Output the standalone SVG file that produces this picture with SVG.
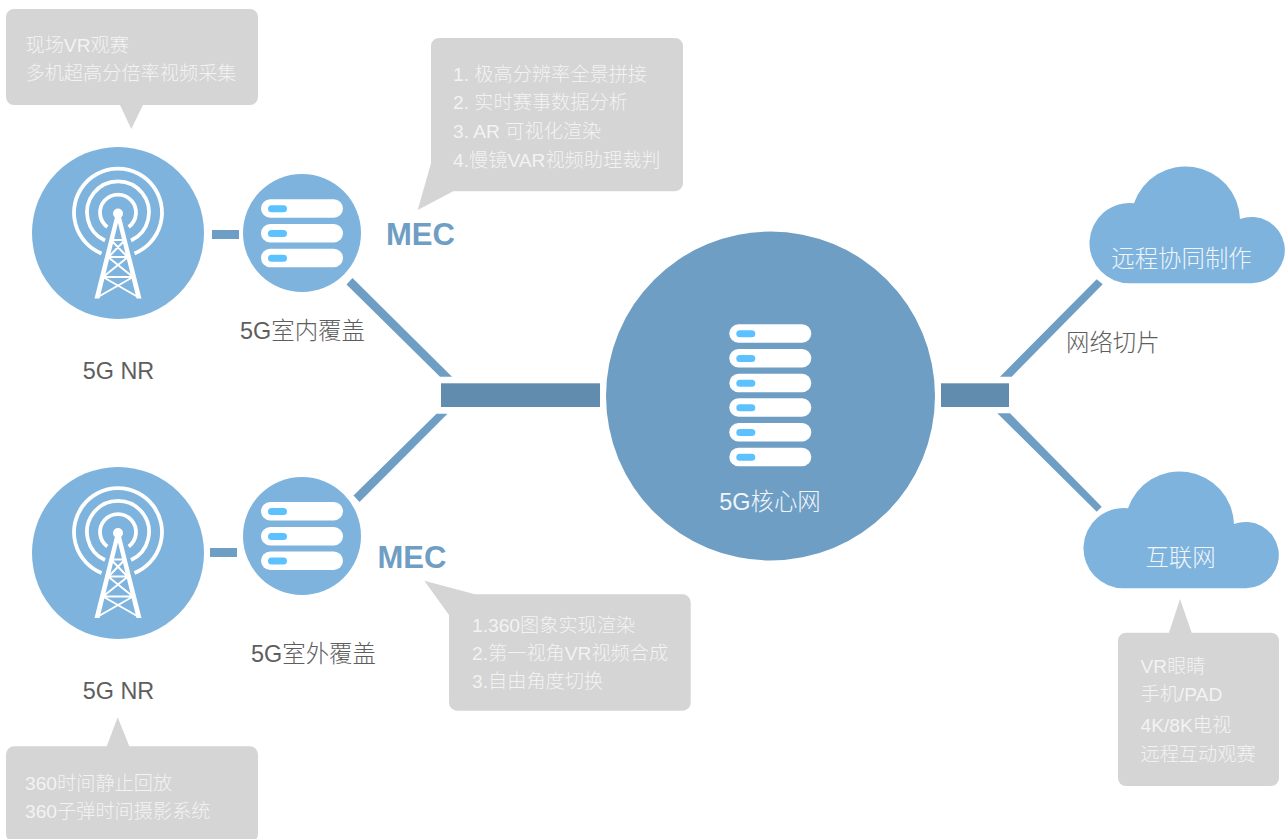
<svg xmlns="http://www.w3.org/2000/svg" xmlns:xlink="http://www.w3.org/1999/xlink" width="1288" height="839" viewBox="0 0 1288 839">
<style>
text{font-family:"Liberation Sans","Noto Sans CJK SC",sans-serif}
.light{fill:#7DB3DD}
.core{fill:#6F9EC4}
.bar{fill:#628CAD}
.link{fill:#6F9EC4}
.bubble{fill:#D5D5D5}
.bt{font-size:19.200px;fill:#F3F3F3;font-weight:300}
.lbl{font-size:23.400px;fill:#5E5E5E;font-weight:300}
.wt{font-size:23.400px;fill:#F0F5FA;font-weight:300}
.mec{font-size:31px;font-weight:bold;fill:#6F9EC4}
.row{fill:#fff}
.led{fill:#5BC2FF}
.arc{fill:none;stroke:#fff;stroke-width:3.800}
.mast{fill:none;stroke:#fff;stroke-width:2}
</style>
<defs>
<g id="tower">
<path class="arc" d="M101.500 253.500A44 44 0 1 1 134.500 253.500"/>
<path class="arc" d="M105 240.500A31 31 0 1 1 131 240.500"/>
<path class="arc" d="M107.300 227A18 18 0 1 1 128.700 227"/>
<circle cx="118" cy="213.500" r="5" fill="#fff"/>
<path fill="#fff" d="M115.500 215H120.500L141.500 298.500H136.500L118 223L99.500 298.500H94.500Z"/>
<path class="mast" d="M111 240H125M111 240L127.500 257M125 240L108.500 257M108 257H128M108 257L133 277M128 257L103 277M103 277H133M103 277L138 297M133 277L98 297"/>
</g>
<g id="row"><rect class="row" x="0" y="0" width="82" height="18.500" rx="9.200"/><rect class="led" x="7" y="6" width="19" height="7" rx="3.500"/></g>
<path id="cloud" d="M1130 283.300A40.170 40.170 0 1 1 1134 203.200A54.500 54.500 0 0 1 1240 219A33.200 33.200 0 1 1 1252 283.300Z"/>
</defs>
<g id="connectors">
<rect class="link" x="212" y="230" width="27" height="9"/>
<rect class="link" x="210" y="548" width="27" height="9"/>
<polygon class="link" points="352.500,278 452,376.700 440,376.700 346.500,284.500"/>
<polygon class="link" points="436.500,413.700 447.500,413.700 359.500,502 353.500,495.500"/>
<rect class="bar" x="441" y="383.300" width="159" height="23.700"/>
<rect class="bar" x="941" y="383.300" width="68" height="23.700"/>
<polygon class="link" points="1096.700,279.300 1102.700,284.300 1011.700,376.700 1000,376.700"/>
<polygon class="link" points="997.300,413.300 1010,413.300 1101.700,506.700 1096.700,511.700"/>
</g>
<g id="nr-top"><circle class="light" cx="118" cy="233" r="86"/><use xlink:href="#tower"/><text class="lbl" x="118.500" y="379" text-anchor="middle">5G NR</text></g>
<g id="nr-bottom"><circle class="light" cx="118" cy="553" r="86"/><use xlink:href="#tower" y="319.500"/><text class="lbl" x="118.500" y="699" text-anchor="middle">5G NR</text></g>
<g id="mec-top"><circle class="light" cx="302" cy="233" r="59"/><use xlink:href="#row" x="261" y="199.300"/><use xlink:href="#row" x="261" y="224"/><use xlink:href="#row" x="261" y="248.800"/><text class="lbl" x="302.500" y="339" text-anchor="middle">5G室内覆盖</text><text class="mec" x="386" y="245">MEC</text></g>
<g id="mec-bottom"><circle class="light" cx="302" cy="536" r="59"/><use xlink:href="#row" x="261" y="502"/><use xlink:href="#row" x="261" y="527"/><use xlink:href="#row" x="261" y="551.500"/><text class="lbl" x="313.500" y="662" text-anchor="middle">5G室外覆盖</text><text class="mec" x="377.500" y="568">MEC</text></g>
<g id="core"><circle class="core" cx="770.500" cy="396" r="164.500"/><use xlink:href="#row" x="729.300" y="324.300"/><use xlink:href="#row" x="729.300" y="349"/><use xlink:href="#row" x="729.300" y="373.700"/><use xlink:href="#row" x="729.300" y="398.300"/><use xlink:href="#row" x="729.300" y="423"/><use xlink:href="#row" x="729.300" y="447.700"/><text class="wt" x="770" y="510" text-anchor="middle">5G核心网</text></g>
<g id="cloud-remote"><use xlink:href="#cloud" class="light"/><text class="wt" x="1181.500" y="267" text-anchor="middle">远程协同制作</text></g>
<g id="cloud-internet"><use xlink:href="#cloud" class="light" x="-6" y="305"/><text class="wt" x="1180.500" y="566" text-anchor="middle">互联网</text></g>
<text class="lbl" x="1066" y="351">网络切片</text>
<g id="bubble-capture"><path class="bubble" d="M14 9H250A8 8 0 0 1 258 17V97A8 8 0 0 1 250 105H143L131.300 129L120 105H14A8 8 0 0 1 6 97V17A8 8 0 0 1 14 9Z"/><text class="bt" x="25.500" y="52">现场VR观赛</text><text class="bt" x="25.500" y="80">多机超高分倍率视频采集</text></g>
<g id="bubble-mec-top"><path class="bubble" d="M439 38H675A8 8 0 0 1 683 46V183A8 8 0 0 1 675 191.300H453.300L417.700 210L431 163.300V46A8 8 0 0 1 439 38Z"/><text class="bt" x="453" y="81">1. 极高分辨率全景拼接</text><text class="bt" x="453" y="109">2. 实时赛事数据分析</text><text class="bt" x="453" y="138">3. AR 可视化渲染</text><text class="bt" x="453" y="167">4.慢镜VAR视频助理裁判</text></g>
<g id="bubble-mec-bottom"><path class="bubble" d="M475 594.300H682.700A8 8 0 0 1 690.700 602.300V702.700A8 8 0 0 1 682.700 710.700H457A8 8 0 0 1 449 702.700V615L424.300 580.700Z"/><text class="bt" x="472" y="632">1.360图象实现渲染</text><text class="bt" x="472" y="660">2.第一视角VR视频合成</text><text class="bt" x="472" y="688">3.自由角度切换</text></g>
<g id="bubble-devices"><path class="bubble" d="M1126 632.700H1169L1180 599L1191.700 632.700H1271A8 8 0 0 1 1279 640.700V778A8 8 0 0 1 1271 786H1126A8 8 0 0 1 1118 778V640.700A8 8 0 0 1 1126 632.700Z"/><text class="bt" x="1140.500" y="673">VR眼睛</text><text class="bt" x="1140.500" y="701">手机/PAD</text><text class="bt" x="1140.500" y="732">4K/8K电视</text><text class="bt" x="1140.500" y="761">远程互动观赛</text></g>
<g id="bubble-replay"><path class="bubble" d="M14 746.300H106.700L117.700 717.300L129.300 746.300H250A8 8 0 0 1 258 754.300V834A8 8 0 0 1 250 842H14A8 8 0 0 1 6 834V754.300A8 8 0 0 1 14 746.300Z"/><text class="bt" x="25" y="790">360时间静止回放</text><text class="bt" x="25" y="818">360子弹时间摄影系统</text></g>
</svg>
